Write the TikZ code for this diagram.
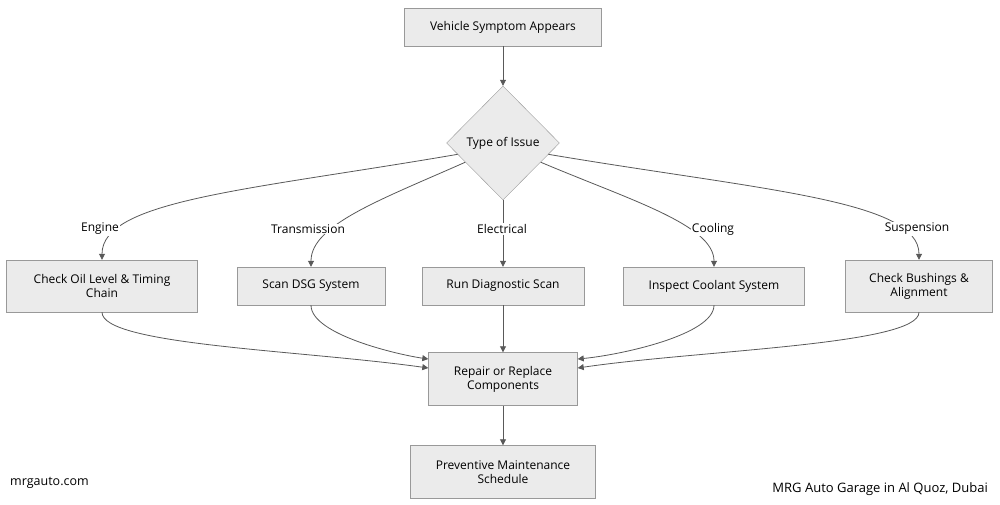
\documentclass[tikz,border=0pt]{standalone}
\usepackage{fontspec}
\setmainfont{Open Sans}
\usetikzlibrary{shapes.geometric,arrows.meta}
\begin{document}
\begin{tikzpicture}[x=1pt,y=1pt,
  box/.style={draw=black!40,fill=black!8,font=\fontsize{12}{14}\selectfont,align=center,inner sep=0pt},
  lab/.style={fill=white,font=\fontsize{12}{14}\selectfont,inner sep=1pt},
  edge/.style={draw=black!65,line width=0.8pt,-{Triangle[length=6pt,width=6pt]}}]
\useasboundingbox (0,0) rectangle (1000,-504);
\node[box,minimum width=197pt,minimum height=38pt] (a) at (503,-27) {Vehicle Symptom Appears};
\node[box,shape=diamond,minimum width=113pt,minimum height=114pt] (d) at (503,-143) {Type of Issue};
\node[box,minimum width=191pt,minimum height=52pt] (e) at (102,-286) {Check Oil Level \& Timing\\Chain};
\node[box,minimum width=148pt,minimum height=38pt] (t) at (311,-286) {Scan DSG System};
\node[box,minimum width=162pt,minimum height=38pt] (el) at (503,-286) {Run Diagnostic Scan};
\node[box,minimum width=181pt,minimum height=38pt] (c) at (714,-286) {Inspect Coolant System};
\node[box,minimum width=147pt,minimum height=52pt] (s) at (919,-286) {Check Bushings \&\\Alignment};
\node[box,minimum width=149pt,minimum height=53pt] (r) at (503,-379) {Repair or Replace\\Components};
\node[box,minimum width=185pt,minimum height=53pt] (p) at (503,-472) {Preventive Maintenance\\Schedule};
\draw[edge] (a) -- (d);
\draw[edge] (d.194) .. controls (250,-190) and (102,-200) .. (e.north);
\draw[edge] (d.207) .. controls (380,-200) and (311,-225) .. (t.north);
\draw[edge] (d.south) -- (el.north);
\draw[edge] (d.333) .. controls (630,-200) and (714,-225) .. (c.north);
\draw[edge] (d.346) .. controls (760,-190) and (919,-200) .. (s.north);
\draw[edge] (e.south) .. controls (102,-345) and (300,-350) .. (r.west |- 0,-368);
\draw[edge] (t.south) .. controls (311,-335) and (400,-355) .. (r.west |- 0,-359);
\draw[edge] (el.south) -- (r.north);
\draw[edge] (c.south) .. controls (714,-335) and (620,-355) .. (r.east |- 0,-359);
\draw[edge] (s.south) .. controls (919,-345) and (700,-350) .. (r.east |- 0,-368);
\draw[edge] (r.south) -- (p.north);
\node[lab] (l1) at (100,-229) {Engine};
\node[lab] (l2) at (308,-229) {Transmission};
\node[lab] (l3) at (502,-229) {Electrical};
\node[lab] (l4) at (713,-229) {Cooling};
\node[lab] (l5) at (917,-229) {Suspension};
\node[font=\fontsize{12.5}{14}\selectfont,anchor=west,inner sep=0pt] (w1) at (10,-483) {mrgauto.com};
\node[font=\fontsize{13}{15}\selectfont,anchor=east,inner sep=0pt] (w2) at (988,-489) {MRG Auto Garage in Al Quoz, Dubai};
\end{tikzpicture}
\end{document}
